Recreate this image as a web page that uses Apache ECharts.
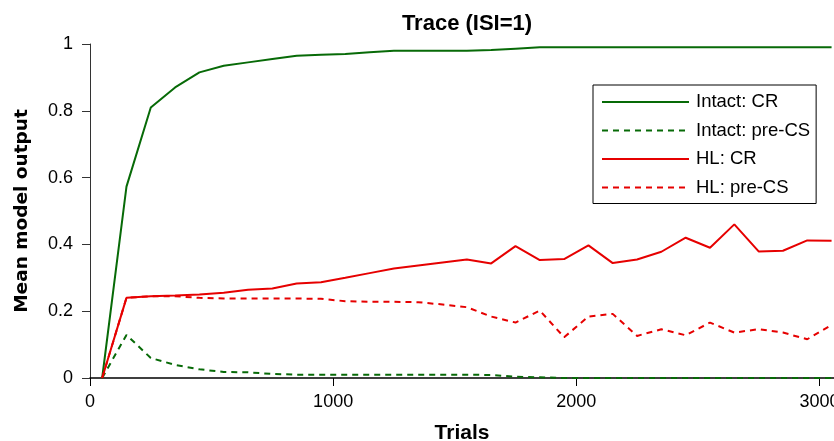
<!DOCTYPE html>
<html>
<head>
<meta charset="utf-8">
<script src="https://cdn.jsdelivr.net/npm/echarts@6/dist/echarts.min.js"></script>
<style>
  html, body { margin: 0; padding: 0; background: #fff; }
  #chart { width: 834px; height: 441px; }
</style>
</head>
<body>
<div id="chart"></div>
<script>
// trial number of each sample point
const trials = [50, 150, 250, 350, 450, 550, 650, 750, 850, 950, 1050, 1150, 1250, 1350, 1450, 1550,
  1650, 1750, 1850, 1950, 2050, 2150, 2250, 2350, 2450, 2550, 2650, 2750, 2850, 2950, 3050];

const intactCR = [0, 0.573, 0.81, 0.87, 0.915, 0.935, 0.945, 0.955, 0.965, 0.968, 0.97, 0.975, 0.98, 0.98, 0.98, 0.98,
  0.982, 0.986, 0.99, 0.99, 0.99, 0.99, 0.99, 0.99, 0.99, 0.99, 0.99, 0.99, 0.99, 0.99, 0.99];
const intactPreCS = [0, 0.129, 0.06, 0.039, 0.026, 0.018, 0.017, 0.012, 0.01, 0.01, 0.01, 0.01, 0.01, 0.01, 0.01, 0.01,
  0.009, 0.004, 0.002, 0, 0, 0, 0, 0, 0, 0, 0, 0, 0, 0, 0];
const hlCR = [0, 0.24, 0.245, 0.247, 0.25, 0.255, 0.264, 0.268, 0.283, 0.287, 0.3, 0.314, 0.328, 0.337, 0.346, 0.355,
  0.343, 0.395, 0.353, 0.356, 0.397, 0.344, 0.355, 0.378, 0.42, 0.39, 0.46, 0.379, 0.381, 0.412, 0.411];
const hlPreCS = [0, 0.24, 0.245, 0.245, 0.24, 0.238, 0.238, 0.238, 0.238, 0.237, 0.23, 0.228, 0.228, 0.227, 0.22, 0.212,
  0.184, 0.166, 0.202, 0.122, 0.184, 0.192, 0.126, 0.146, 0.128, 0.166, 0.136, 0.146, 0.136, 0.116, 0.159];

const seriesNames = ['Intact: CR', 'Intact: pre-CS', 'HL: CR', 'HL: pre-CS'];
const green = '#076a07';
const red = '#e60000';

function pairs(values) {
  return trials.map((t, i) => [t, values[i]]);
}

function lineSeries(name, values, color, dashed) {
  return {
    name,
    type: 'line',
    data: pairs(values),
    symbol: 'none',
    clip: true,
    lineStyle: { color, width: 2, type: dashed ? [6, 5] : 'solid' },
    itemStyle: { color },
  };
}

const chart = echarts.init(document.getElementById('chart'));

const font = 'Liberation Sans, Arial, sans-serif';

const option = {
  animation: false,
  textStyle: { fontFamily: font },
  title: {
    text: 'Trace (ISI=1)',
    left: 462,
    top: 8,
    textAlign: 'center',
    textStyle: { fontSize: 22, fontWeight: 'bold', color: '#000', fontFamily: font },
  },
  grid: { left: 90, right: 0, top: 44, bottom: 63, containLabel: false, outerBoundsMode: 'none' },
  legend: {
    orient: 'vertical',
    left: 593,
    top: 85,
    padding: [7.5, 6, 6.5, 8],
    itemWidth: 87,
    itemHeight: 14,
    itemGap: 9.5,
    itemStyle: { opacity: 0 },
    borderColor: '#000',
    borderWidth: 1,
    backgroundColor: '#fff',
    textStyle: { fontSize: 18.5, color: '#000', fontFamily: font, padding: [0, 0, 0, 2] },
    data: seriesNames,
  },
  xAxis: {
    type: 'value',
    min: 0,
    max: 3060,
    interval: 1000,
    name: 'Trials',
    nameLocation: 'middle',
    nameGap: 45,
    nameTextStyle: { fontSize: 21, fontWeight: 'bold', color: '#000', fontFamily: font },
    axisLine: { show: true, lineStyle: { color: '#000', width: 1.5 } },
    axisTick: { show: true, inside: false, length: 8, lineStyle: { color: '#000' } },
    axisLabel: { fontSize: 18, color: '#000', margin: 15, fontFamily: font,
      formatter: v => String(v) },
    splitLine: { show: false },
  },
  yAxis: {
    type: 'value',
    min: 0,
    max: 1,
    interval: 0.2,
    name: 'Mean model output',
    nameLocation: 'middle',
    nameGap: 58.5,
    nameTextStyle: { fontSize: 18.5, fontWeight: 'bold', color: '#000', fontFamily: 'DejaVu Sans, sans-serif' },
    axisLine: { show: true, lineStyle: { color: '#333', width: 1 } },
    axisTick: { show: true, inside: false, length: 8, lineStyle: { color: '#333' } },
    axisLabel: { fontSize: 18, color: '#000', margin: 17, fontFamily: font,
      formatter: v => (Math.round(v * 10) / 10).toString() },
    splitLine: { show: false },
  },
  series: [
    lineSeries(seriesNames[0], intactCR, green, false),
    lineSeries(seriesNames[1], intactPreCS, green, true),
    lineSeries(seriesNames[2], hlCR, red, false),
    lineSeries(seriesNames[3], hlPreCS, red, true),
  ],
};

chart.setOption(option);
</script>
</body>
</html>
